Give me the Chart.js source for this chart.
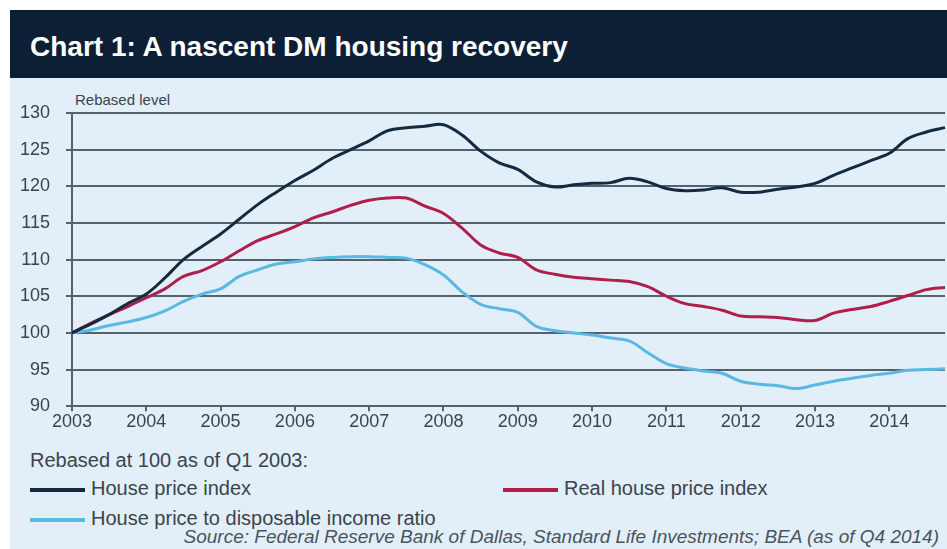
<!DOCTYPE html>
<html>
<head>
<meta charset="utf-8">
<script src="https://cdn.jsdelivr.net/npm/chart.js@4/dist/chart.umd.min.js"></script>
<style>
  body { margin: 0; background: #fff; font-family: "Liberation Sans", Arial, sans-serif; }
  #frame { position: relative; width: 947px; height: 549px; overflow: hidden; }
  #header { position: absolute; left: 10px; top: 10px; width: 937px; height: 68px; background: #0d1f35; }
  #header h1 { margin: 0; position: absolute; left: 20px; top: 22px; color: #fff; font-size: 28px; line-height: 30px; font-weight: bold; }
  #panel { position: absolute; left: 10px; top: 78px; width: 937px; height: 471px; background: #e2eff8; }
  #yTitle { position: absolute; left: 75px; top: 91px; font-size: 15px; color: #3a444d; }
  #wrap { position: absolute; left: 0; top: 78px; width: 947px; height: 355px; }
  .note { position: absolute; color: #3a444d; font-size: 20px; line-height: 24px; white-space: nowrap; }
  .key { position: absolute; height: 24px; font-size: 20px; line-height: 24px; color: #3a444d; white-space: nowrap; }
  .key span { display: inline-block; width: 55px; height: 4px; vertical-align: middle; margin-right: 6px; }
  #source { position: absolute; right: 8px; top: 526px; font-size: 19px; line-height: 22px; font-style: italic; color: #4a545d; white-space: nowrap; }
</style>
</head>
<body>
<div id="frame">
  <div id="header"><h1>Chart 1: A nascent DM housing recovery</h1></div>
  <div id="panel"></div>
  <div id="yTitle">Rebased level</div>
  <div id="wrap"><canvas id="housingChart"></canvas></div>
  <div class="note" style="left:30px; top:448px;">Rebased at 100 as of Q1 2003:</div>
  <div id="legend"></div>
  <div id="source">Source: Federal Reserve Bank of Dallas, Standard Life Investments; BEA (as of Q4 2014)</div>
</div>
<script>
// Quarterly, Q1 2003 to Q4 2014, rebased to 100
const years = [2003, 2004, 2005, 2006, 2007, 2008, 2009, 2010, 2011, 2012, 2013, 2014];
const quarters = [];
years.forEach(y => { for (let q = 1; q <= 4; q++) quarters.push(y + " Q" + q); });

const housePrice = [
  100, 101.2, 102.5, 104, 105.3, 107.5, 110, 111.8,
  113.5, 115.5, 117.5, 119.2, 120.8, 122.2, 123.8, 125,
  126.2, 127.6, 128, 128.2, 128.4, 127, 124.8, 123.2,
  122.3, 120.6, 119.9, 120.2, 120.4, 120.5, 121.1, 120.6,
  119.7, 119.4, 119.5, 119.8, 119.2, 119.2, 119.6, 119.9,
  120.4, 121.5, 122.5, 123.5, 124.5, 126.5, 127.4, 128
];
const realHousePrice = [
  100, 101.3, 102.5, 103.6, 104.8, 106, 107.7, 108.5,
  109.7, 111.2, 112.6, 113.5, 114.5, 115.7, 116.5, 117.4,
  118.1, 118.4, 118.4, 117.3, 116.3, 114.3, 112, 110.9,
  110.3, 108.6, 108, 107.6, 107.4, 107.2, 107, 106.3,
  105, 104, 103.6, 103.1, 102.3, 102.2, 102.1, 101.8,
  101.7, 102.7, 103.2, 103.6, 104.3, 105.1, 105.9, 106.2
];
const priceToIncome = [
  100, 100.4, 101, 101.5, 102.1, 103, 104.3, 105.3,
  106, 107.7, 108.6, 109.4, 109.7, 110.1, 110.3, 110.4,
  110.4, 110.3, 110.2, 109.3, 107.9, 105.6, 103.9, 103.3,
  102.8, 100.9, 100.3, 100, 99.7, 99.3, 98.9, 97.3,
  95.8, 95.2, 94.8, 94.5, 93.4, 93, 92.8, 92.4,
  92.9, 93.4, 93.8, 94.2, 94.5, 94.9, 95, 95.1
];

const seriesNames = ["House price index", "Real house price index", "House price to disposable income ratio"];
const seriesColors = ["#142a40", "#b01f4c", "#5ab9e2"];
const yTicks = [90, 95, 100, 105, 110, 115, 120, 125, 130];

const axisColor = "#56626b";
const textColor = "#3a444d";
const font = { family: '"Liberation Sans", Arial, sans-serif', size: 18 };

// legend rows drawn as html, laid out in two columns
const legendPos = [[30, 476], [503, 476], [30, 506]];
const legendBox = document.getElementById("legend");
seriesNames.forEach((name, i) => {
  const d = document.createElement("div");
  d.className = "key";
  d.style.left = legendPos[i][0] + "px";
  d.style.top = legendPos[i][1] + "px";
  d.innerHTML = '<span style="background:' + seriesColors[i] + '"></span>' + name;
  legendBox.appendChild(d);
});

const ctx = document.getElementById("housingChart").getContext("2d");
new Chart(ctx, {
  type: "line",
  data: {
    labels: quarters,
    datasets: [housePrice, realHousePrice, priceToIncome].map((vals, i) => ({
      label: seriesNames[i],
      data: vals,
      borderColor: seriesColors[i],
      borderWidth: 3,
      pointRadius: 0,
      tension: 0.35,
      fill: false
    }))
  },
  options: {
    responsive: true,
    maintainAspectRatio: false,
    animation: false,
    layout: { padding: { top: 35, right: 2, left: 0, bottom: 0 } },
    plugins: { legend: { display: false }, tooltip: { enabled: false } },
    scales: {
      x: {
        offset: false,
        afterFit: s => { s.height = 25; },
        grid: {
          drawOnChartArea: false,
          drawTicks: true,
          tickLength: 5,
          lineWidth: 2,
          color: c => (c.index % 4 === 0 ? axisColor : "rgba(0,0,0,0)")
        },
        border: { display: true, color: axisColor, width: 2 },
        ticks: {
          autoSkip: false,
          maxRotation: 0,
          padding: 0,
          color: textColor,
          font: font,
          callback: function (v, i) { return i % 4 === 0 ? this.getLabelForValue(v).slice(0, 4) : ""; }
        }
      },
      y: {
        min: 90,
        max: 130,
        afterFit: s => { s.width = 72; },
        afterBuildTicks: s => { s.ticks = yTicks.map(v => ({ value: v })); },
        grid: { color: axisColor, lineWidth: 2, tickLength: 6 },
        border: { display: true, color: axisColor, width: 2 },
        ticks: { padding: 16, color: textColor, font: font }
      }
    }
  }
});
</script>
</body>
</html>
